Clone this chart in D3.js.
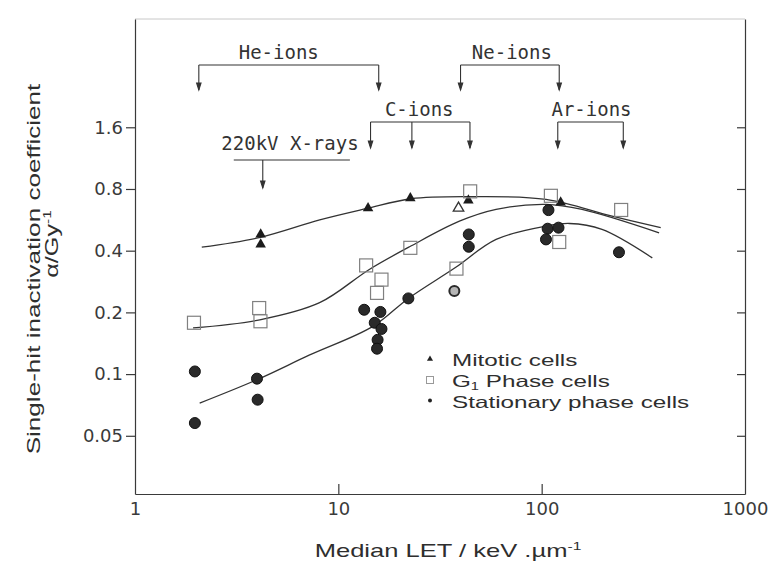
<!DOCTYPE html>
<html lang="en">
<head>
<meta charset="UTF-8" />
<title>Single-hit inactivation coefficient vs LET</title>
<script src="https://cdn.jsdelivr.net/npm/d3@7"></script>
<style>
  body { margin: 0; background: #fff; }
  svg { display: block; }
</style>
</head>
<body>
<div id="chart"></div>
<script>
// points are [median LET (keV/um), alpha (1/Gy)]
const mitotic = [[4.15, 0.48], [4.15, 0.429], [14.0, 0.645], [22.6, 0.722], [43.6, 0.704], [124, 0.688]]
const mitoticOpen = [[39.0, 0.645]]
const g1Phase = [
  [1.95, 0.178], [4.08, 0.21], [4.14, 0.181], [13.7, 0.339], [16.3, 0.289], [15.5, 0.249],
  [22.6, 0.413], [38.1, 0.327], [44.5, 0.779], [111, 0.741], [122, 0.441], [246, 0.632]
]
const stationary = [
  [1.97, 0.103], [1.97, 0.0577], [3.98, 0.095], [4.01, 0.075], [13.4, 0.206], [16.1, 0.201],
  [15.1, 0.178], [16.3, 0.166], [15.6, 0.147], [15.5, 0.133], [22.1, 0.234], [43.8, 0.48],
  [43.8, 0.418], [108, 0.631], [107, 0.512], [121, 0.518], [105, 0.454], [240, 0.393]
]
const stationaryOpen = [[37.2, 0.254]]

// fitted curves
const mitoticFit = [[2.13, 0.416], [4.08, 0.463], [8.1, 0.565], [13.7, 0.641], [22.8, 0.717], [43.8, 0.734], [105, 0.712], [222, 0.59], [385, 0.518]]
const g1Fit = [[1.93, 0.168], [4.11, 0.184], [8.09, 0.223], [14.2, 0.324], [22.4, 0.418], [39.4, 0.557], [59.7, 0.636], [105, 0.673], [158, 0.636], [378, 0.489]]
const stationaryFit = [[2.08, 0.0722], [3.98, 0.0939], [7.23, 0.124], [14.8, 0.171], [22.1, 0.234], [37.5, 0.33], [59.7, 0.454], [105, 0.527], [137, 0.543], [198, 0.508], [350, 0.369]]

const xTicks = [1, 10, 100, 1000]
const yTicks = [0.05, 0.1, 0.2, 0.4, 0.8, 1.6]

// beam annotations: LET of each arrow
const heIons = [2.06, 15.8]
const neIons = [39.9, 122]
const cIons = [14.4, 23.0, 44.4]
const arIons = [120, 252]
const xRays = 4.25
const xRaysBand = [3.06, 11.4]

const width = 770, height = 565
const sans = 'Liberation Sans, Arial, sans-serif'
const ink = '#2e2e2e'

const svg = d3.select('#chart').append('svg')
  .attr('width', width).attr('height', height)

const x = d3.scaleLog().domain([1, 1000]).range([135, 745])
const y = d3.scaleLog().domain([0.026, 5.4]).range([494, 19])

// frame
svg.append('line')
  .attr('x1', x.range()[0]).attr('x2', x.range()[1])
  .attr('y1', y.range()[1]).attr('y2', y.range()[1])
  .attr('stroke', '#c8c8c8').attr('stroke-width', 1)

const xAxis = svg.append('g')
  .attr('transform', `translate(0,${y.range()[0]})`)
  .call(d3.axisBottom(x).tickValues(xTicks).tickFormat(d3.format('d'))
    .tickSizeInner(-10).tickSizeOuter(0).tickPadding(8))
const yAxis = svg.append('g')
  .attr('transform', `translate(${x.range()[0]},0)`)
  .call(d3.axisLeft(y).tickValues(yTicks).tickFormat(d => d)
    .tickSizeInner(9).tickSizeOuter(0).tickPadding(3))
const yRight = svg.append('g')
  .attr('transform', `translate(${x.range()[1]},0)`)
  .call(d3.axisRight(y).tickValues(yTicks).tickFormat('')
    .tickSizeInner(-8).tickSizeOuter(0))

svg.selectAll('.domain, .tick line').attr('stroke', '#3a3a3a').attr('stroke-width', 1.2)
svg.selectAll('.tick text')
  .attr('font-family', 'DejaVu Sans, sans-serif').attr('font-size', 18).attr('fill', '#3a3a3a')
xAxis.selectAll('.tick').filter(d => d === 1 || d === 1000).select('line').remove()

// axis titles (the scan is stretched along the text, so scale the glyphs)
svg.append('text')
  .attr('transform', `translate(448,557) scale(1.42,1)`)
  .attr('text-anchor', 'middle')
  .attr('font-family', sans).attr('font-size', 18).attr('fill', ink)
  .call(t => {
    t.append('tspan').text('Median LET / keV .µm')
    t.append('tspan').attr('font-size', 11).attr('dy', -7).text('-1')
  })

svg.append('text')
  .attr('transform', `translate(40,269) rotate(-90) scale(1.45,1)`)
  .attr('text-anchor', 'middle')
  .attr('font-family', sans).attr('font-size', 18).attr('fill', ink)
  .text('Single-hit inactivation coefficient')

svg.append('text')
  .attr('transform', `translate(58,244) rotate(-90) scale(1.4,1)`)
  .attr('text-anchor', 'middle')
  .attr('font-family', sans).attr('font-size', 18).attr('fill', ink)
  .call(t => {
    t.append('tspan').text('α/Gy')
    t.append('tspan').attr('font-size', 11).attr('dy', -7).text('-1')
  })

// beam annotations
const ann = svg.append('g')
  .attr('stroke', '#333').attr('stroke-width', 1.1).attr('fill', 'none')

function arrow(xp, y0, y1) {
  ann.append('line').attr('x1', xp).attr('x2', xp).attr('y1', y0).attr('y2', y1)
  ann.append('path')
    .attr('d', `M${xp - 2.2},${y1 - 7}L${xp},${y1}L${xp + 2.2},${y1 - 7}Z`)
    .attr('fill', '#333')
}

function bracket(label, lets, bar, tip, dx) {
  const xs = lets.map(x)
  ann.append('line')
    .attr('x1', d3.min(xs)).attr('x2', d3.max(xs)).attr('y1', bar).attr('y2', bar)
  xs.forEach(xp => arrow(xp, bar, tip))
  svg.append('text')
    .attr('x', (d3.min(xs) + d3.max(xs)) / 2 + dx).attr('y', bar - 6)
    .attr('text-anchor', 'middle')
    .attr('font-family', 'DejaVu Sans Mono, monospace').attr('font-size', 19).attr('fill', '#333')
    .text(label)
}

bracket('He-ions', heIons, 65, 90, -10)
bracket('Ne-ions', neIons, 65, 90, 2)
bracket('C-ions', cIons, 122, 148, -1)
bracket('Ar-ions', arIons, 122, 148, 1)

ann.append('line')
  .attr('x1', x(xRaysBand[0])).attr('x2', x(xRaysBand[1])).attr('y1', 160).attr('y2', 160)
arrow(x(xRays), 160, 188)
svg.append('text')
  .attr('x', 290).attr('y', 150).attr('text-anchor', 'middle')
  .attr('font-family', 'DejaVu Sans Mono, monospace').attr('font-size', 19).attr('fill', '#333')
  .text('220kV X-rays')

// fitted curves
const line = d3.line().x(d => x(d[0])).y(d => y(d[1])).curve(d3.curveCatmullRom.alpha(0.5))
svg.append('g').attr('fill', 'none').attr('stroke', '#333').attr('stroke-width', 1.3)
  .selectAll('path')
  .data([mitoticFit, g1Fit, stationaryFit])
  .join('path')
  .attr('d', line)

// markers
const tri = d3.symbol(d3.symbolTriangle, 48)
svg.append('g').selectAll('path')
  .data(mitotic).join('path')
  .attr('d', tri).attr('transform', d => `translate(${x(d[0])},${y(d[1])})`)
  .attr('fill', '#1c1c1c')
svg.append('g').selectAll('path')
  .data(mitoticOpen).join('path')
  .attr('d', tri).attr('transform', d => `translate(${x(d[0])},${y(d[1])})`)
  .attr('fill', 'none').attr('stroke', '#333').attr('stroke-width', 1.3)

svg.append('g').selectAll('rect')
  .data(g1Phase).join('rect')
  .attr('x', d => x(d[0]) - 6.5).attr('y', d => y(d[1]) - 6.5)
  .attr('width', 13).attr('height', 13)
  .attr('fill', 'none').attr('stroke', '#808080').attr('stroke-width', 1.2)

svg.append('g').selectAll('circle')
  .data(stationary).join('circle')
  .attr('cx', d => x(d[0])).attr('cy', d => y(d[1])).attr('r', 5.5)
  .attr('fill', '#2a2a2a').attr('stroke', '#111').attr('stroke-width', 1)
svg.append('g').selectAll('circle')
  .data(stationaryOpen).join('circle')
  .attr('cx', d => x(d[0])).attr('cy', d => y(d[1])).attr('r', 5)
  .attr('fill', '#b5b5b5').attr('stroke', '#2a2a2a').attr('stroke-width', 2)

// legend
const legend = svg.append('g').attr('transform', 'translate(430,0)')
const rows = [
  { y: 359, kind: 'tri', label: ['Mitotic cells'] },
  { y: 380, kind: 'sq', label: ['G', '1', ' Phase cells'] },
  { y: 400.5, kind: 'dot', label: ['Stationary phase cells'] }
]
rows.forEach(r => {
  if (r.kind === 'tri') {
    legend.append('path').attr('d', d3.symbol(d3.symbolTriangle, 16))
      .attr('transform', `translate(0,${r.y})`).attr('fill', '#222')
  } else if (r.kind === 'sq') {
    legend.append('rect').attr('x', -3.5).attr('y', r.y - 3.5).attr('width', 7).attr('height', 7)
      .attr('fill', 'none').attr('stroke', '#999').attr('stroke-width', 1)
  } else {
    legend.append('circle').attr('cx', 0).attr('cy', r.y).attr('r', 2).attr('fill', '#222')
  }
  const t = legend.append('text')
    .attr('transform', `translate(22,${r.y + 7}) scale(1.47,1)`)
    .attr('font-family', sans).attr('font-size', 16.5).attr('fill', ink)
  if (r.label.length === 1) {
    t.text(r.label[0])
  } else {
    t.append('tspan').text(r.label[0])
    t.append('tspan').attr('font-size', 10).attr('dy', 2.5).text(r.label[1])
    t.append('tspan').attr('dy', -2.5).text(r.label[2])
  }
})
</script>
</body>
</html>
